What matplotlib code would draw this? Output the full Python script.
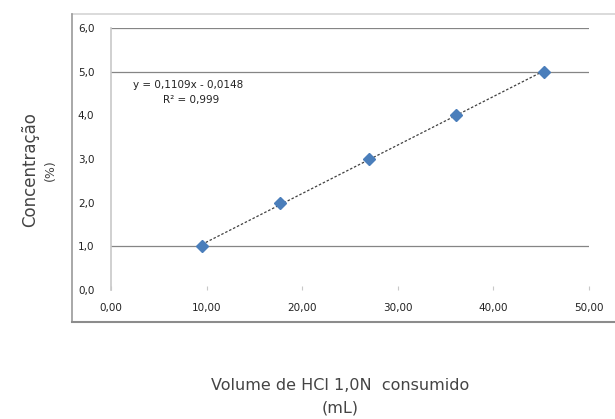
import numpy as np
import matplotlib.pyplot as plt
from matplotlib.lines import Line2D

# dados
volume = [9.5, 17.7, 27.0, 36.1, 45.3]
concentracao = [1.0, 2.0, 3.0, 4.0, 5.0]
xticks = [0, 10, 20, 30, 40, 50]
yticks = [0, 1, 2, 3, 4, 5, 6]
grid_y = [1, 5, 6]
equacao = "y = 0,1109x - 0,0148"
r2 = "R² = 0,999"

fig = plt.figure(figsize=(6.15, 4.19), dpi=100)
fig.patch.set_facecolor('white')

# moldura do grafico (lado direito fica fora da imagem)
x0, y0, y1 = 72/615, 1-322/419, 1-14/419
fig.add_artist(Line2D([x0, 1.1], [y1, y1], transform=fig.transFigure, color='#d4d4d4', linewidth=1.2))
fig.add_artist(Line2D([x0, x0], [y0, y1], transform=fig.transFigure, color='#9a9a9a', linewidth=1.2))
fig.add_artist(Line2D([x0, 1.1], [y0, y0], transform=fig.transFigure, color='#8c8c8c', linewidth=1.5))

ax = fig.add_axes([111/615, 1-290/419, (589-111)/615, (290-28)/419])
ax.set_xlim(0, 50)
ax.set_ylim(0, 6)

for g in grid_y:
    ax.axhline(g, color='#858585', linewidth=0.9, zorder=1)

# linha de tendencia
a, b = np.polyfit(volume, concentracao, 1)
xt = np.array([volume[0], volume[-1]])
ax.plot(xt, a*xt + b, color='#404040', linestyle=(0, (2, 1.5)), linewidth=0.9, zorder=2)

ax.plot(volume, concentracao, linestyle='none', marker='D', markersize=6,
        color='#4a7ebb', markeredgecolor='#4a7ebb', zorder=3)

ax.set_xticks(xticks)
ax.set_xticklabels([('%.2f' % v).replace('.', ',') for v in xticks])
ax.set_yticks(yticks)
ax.set_yticklabels([('%.1f' % v).replace('.', ',') for v in yticks])
ax.tick_params(axis='both', labelsize=7.5, labelcolor='#222222', color='#c8c8c8', length=3, width=0.8)
ax.tick_params(axis='x', direction='in', pad=9)
ax.tick_params(axis='y', length=0, pad=12)

for s in ['top', 'right', 'bottom']:
    ax.spines[s].set_visible(False)
ax.spines['left'].set_color('#c8c8c8')
ax.spines['left'].set_linewidth(1.2)

ax.text(0.046, 0.782, equacao, transform=ax.transAxes, fontsize=7.5, color='#222222', va='center')
ax.text(0.108, 0.725, r2, transform=ax.transAxes, fontsize=7.5, color='#222222', va='center')

fig.text(30/615, 1-170/419, "Concentração", rotation=90, fontsize=12,
         color='#444444', ha='center', va='center')
fig.text(50/615, 1-170/419, "(%)", rotation=90, fontsize=9,
         color='#444444', ha='center', va='center')
fig.text(340/615, 1-385/419, "Volume de HCl 1,0N  consumido", fontsize=11.5,
         color='#444444', ha='center', va='center')
fig.text(340/615, 1-408/419, "(mL)", fontsize=11.5,
         color='#444444', ha='center', va='center')

fig.savefig('out.png', dpi=100)
